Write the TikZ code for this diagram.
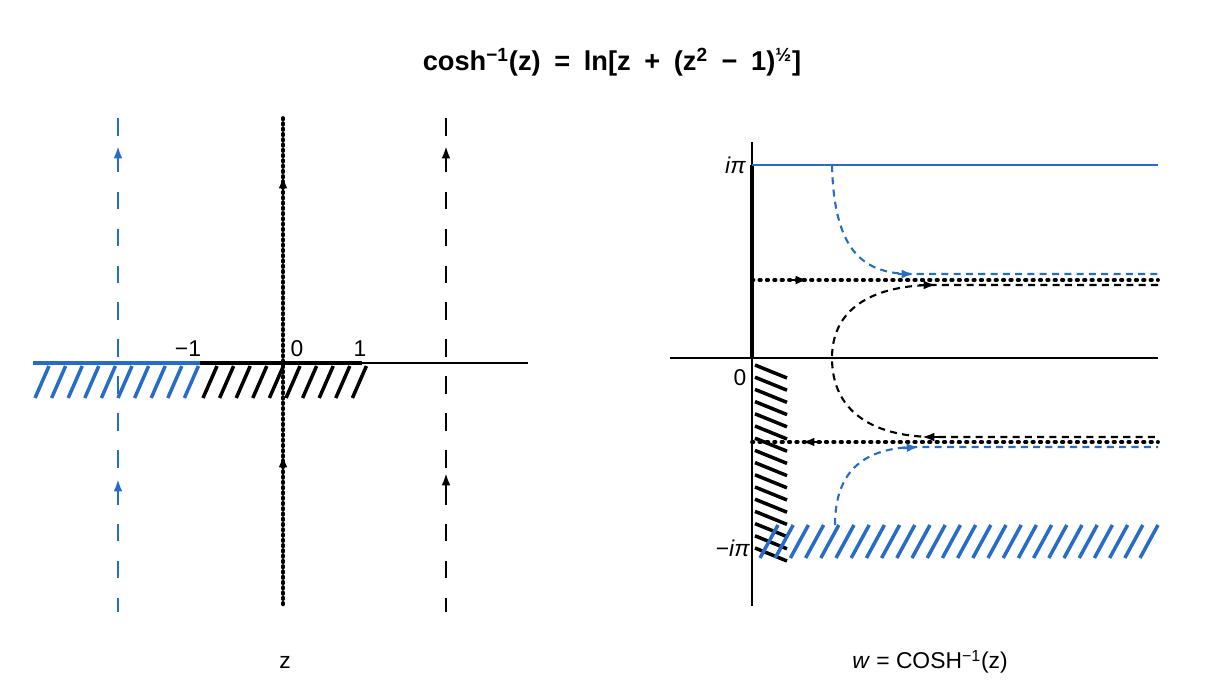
\documentclass[tikz,border=0pt]{standalone}
\usepackage{fontspec}
\setmainfont{Liberation Sans}
\usetikzlibrary{arrows.meta}
\definecolor{printblue}{RGB}{38,108,200}
\begin{document}
\begin{tikzpicture}[x=0.02cm,y=-0.02cm]
	\tikzset{axis/.style = {line width=0.9pt},
		cut/.style = {line width=2.4pt},
		hatch/.style = {line width=2pt},
		longdash/.style = {line width=1.3pt, dash pattern=on 10pt off 11pt},
		shortdash/.style = {line width=1.2pt, dash pattern=on 4pt off 3pt},
		dotline/.style = {line width=2.2pt, line cap=round, dash pattern=on 0.8pt off 3.4pt},
		tip/.style = {-{Latex[length=7pt,width=5pt]}, line width=1.4pt},
		lbl/.style = {font=\fontsize{13}{15}\selectfont, inner sep=1pt}}
	\useasboundingbox (0,0) rectangle (1206,680);
	\node[font=\bfseries\fontsize{15.5}{17}\selectfont] (title) at (612,62) {cosh\textsuperscript{−1}(z)\enspace=\enspace ln[z\enspace+\enspace(z\textsuperscript{2}\enspace−\enspace1)\textsuperscript{½}]};
	% z plane
	\draw[axis] (33,363) -- (528,363);
	\draw[cut,printblue] (33,363) -- (200,363);
	\draw[cut] (200,363) -- (362,363);
	\foreach \k in {0,...,9}{
		\draw[hatch,printblue] ({35+16.6*\k},398) -- ++(14,-32);
		\draw[hatch] ({203+16.6*\k},398) -- ++(14,-32);
	}
	\draw[dotline, dash pattern=on 0.8pt off 2.2pt] (283,118) -- (283,608);
	\draw[tip] (283,196) -- (283,176);
	\draw[tip] (283,475) -- (283,455);
	\draw[longdash,printblue] (118,118) -- (118,612);
	\draw[tip,printblue] (118,172) -- (118,146);
	\draw[tip,printblue] (118,505) -- (118,479);
	\draw[longdash] (446,118) -- (446,612);
	\draw[tip] (446,172) -- (446,146);
	\draw[tip] (446,499) -- (446,473);
	\node[lbl] (mone) at (188,349) {−1};
	\node[lbl] (zero) at (297,349) {0};
	\node[lbl] (one) at (360,349) {1};
	\node[lbl] (zlab) at (285,662) {z};
	% w plane
	\draw[axis] (752,142) -- (752,606);
	\draw[cut] (752,165) -- (752,358);
	\draw[axis] (670,358) -- (1158,358);
	\draw[printblue, line width=1.4pt] (752,165) -- (1158,165);
	\foreach \k in {0,...,15}
		\draw[hatch] (755,{365+12.2*\k}) -- ++(32,13);
	\foreach \k in {0,...,25}
		\draw[hatch,printblue] ({760+15.2*\k},558) -- ++(18,-33);
	\draw[dotline] (752,280) -- (1158,280);
	\draw[dotline] (752,442) -- (1158,442);
	\draw[tip] (788,280) -- (808,280);
	\draw[tip] (822,442) -- (802,442);
	\draw[shortdash,printblue] (832,165) .. controls (834,250) and (862,274) .. (912,274) -- (1158,274);
	\draw[tip,printblue] (898,274) -- (914,274);
	\draw[shortdash,printblue] (835,525) .. controls (835,470) and (865,447) .. (918,447) -- (1158,447);
	\draw[tip,printblue] (903,448) -- (919,447);
	\draw[shortdash] (1158,285) -- (935,285) .. controls (878,285) and (832,305) .. (832,358)
		.. controls (832,415) and (878,437) .. (935,437) -- (1158,437);
	\draw[tip] (919,285) -- (936,285);
	\draw[tip] (939,437) -- (922,437);
	\node[lbl, anchor=east] (ipi) at (748,165) {\textit{iπ}};
	\node[lbl, anchor=east] (mipi) at (752,548) {−\textit{iπ}};
	\node[lbl] (wzero) at (740,378) {0};
	\node[lbl] (wlab) at (930,662) {\textit{w} = COSH\textsuperscript{−1}(z)};
\end{tikzpicture}
\end{document}
